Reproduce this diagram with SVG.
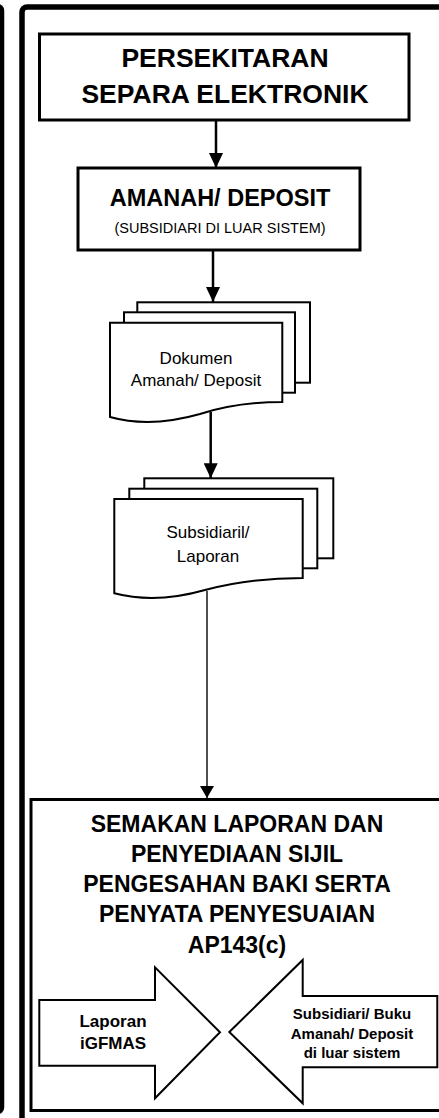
<svg xmlns="http://www.w3.org/2000/svg" width="439" height="1118" viewBox="0 0 439 1118">
<defs>
<style>
.frame{fill:none;stroke:#000;stroke-width:5.5}
.box{fill:#fff;stroke:#000;stroke-width:3}
.doc{fill:#fff;stroke:#000;stroke-width:2}
.big{fill:#fff;stroke:#000;stroke-width:2}
.conn{fill:none;stroke:#000;stroke-width:2.5}
.thin{fill:none;stroke:#222;stroke-width:1.6}
.t{font-family:"Liberation Sans",Arial,sans-serif;fill:#000;text-anchor:middle}
.b{font-weight:bold}
</style>
<marker id="ah" markerUnits="userSpaceOnUse" markerWidth="14" markerHeight="16" viewBox="0 0 14 16" refX="7" refY="15" orient="0">
<path d="M0,0 L14,0 L7,15 Z" fill="#000"/>
</marker>
<marker id="ah2" markerUnits="userSpaceOnUse" markerWidth="14" markerHeight="16" viewBox="0 0 14 16" refX="7" refY="15" orient="0">
<path d="M0,3 L14,3 L7,15 Z" fill="#000"/>
</marker>
</defs>
<g id="frames">
<rect class="frame" x="-200" y="6.5" width="201.5" height="1105" rx="4"/>
<rect class="frame" x="22" y="7" width="500" height="1200" rx="5"/>
</g>
<g id="node-persekitaran">
<rect class="box" x="39.5" y="34" width="369.5" height="86"/>
<text class="t b" x="225" y="67" font-size="26.5">PERSEKITARAN</text>
<text class="t b" x="225" y="103" font-size="26.5">SEPARA ELEKTRONIK</text>
</g>
<g id="node-amanah">
<rect class="box" x="78" y="168" width="282" height="82"/>
<text class="t b" x="220" y="206" font-size="23.5">AMANAH/ DEPOSIT</text>
<text class="t" x="220" y="233" font-size="14.5">(SUBSIDIARI DI LUAR SISTEM)</text>
</g>
<g id="node-dokumen">
<rect class="doc" x="137.3" y="302.3" width="172.7" height="80.4"/>
<rect class="doc" x="124" y="312.3" width="171" height="80.4"/>
<path class="doc" d="M110,322.7 H282.3 V402 C250,402 225,406 200,414 C165,424 135,424 110,417 Z"/>
<text class="t" x="196" y="364" font-size="17">Dokumen</text>
<text class="t" x="196" y="386" font-size="17">Amanah/ Deposit</text>
</g>
<g id="node-subsidiari">
<rect class="doc" x="144.3" y="478.3" width="189" height="80"/>
<rect class="doc" x="129.3" y="488.7" width="188" height="79.6"/>
<path class="doc" d="M114.3,499 H302.7 V578 C265,578 235,582 205,590 C170,600 140,600 114.3,593.3 Z"/>
<text class="t" x="208" y="538" font-size="17">Subsidiaril/</text>
<text class="t" x="208" y="562" font-size="17">Laporan</text>
</g>
<g id="node-semakan">
<rect class="box" x="31" y="799.5" width="500" height="311"/>
<text class="t b" x="237" y="832" font-size="23">SEMAKAN LAPORAN DAN</text>
<text class="t b" x="237" y="862" font-size="23">PENYEDIAAN SIJIL</text>
<text class="t b" x="237" y="892" font-size="23">PENGESAHAN BAKI SERTA</text>
<text class="t b" x="237" y="922" font-size="23">PENYATA PENYESUAIAN</text>
<text class="t b" x="237" y="953" font-size="23">AP143(c)</text>
</g>
<g id="node-laporan-igfmas">
<polygon class="big" points="39.3,1000 155,1000 155,967.3 220,1032.3 155,1098.3 155,1065.7 39.3,1065.7"/>
<text class="t b" x="113" y="1027" font-size="17">Laporan</text>
<text class="t b" x="113" y="1048.5" font-size="17">iGFMAS</text>
</g>
<g id="node-subsidiari-buku">
<polygon class="big" points="437.3,996 302.7,996 302.7,960 229.3,1032 302.7,1103.3 302.7,1067.3 437.3,1067.3"/>
<text class="t b" x="352" y="1018.5" font-size="15">Subsidiari/ Buku</text>
<text class="t b" x="352" y="1038.5" font-size="15">Amanah/ Deposit</text>
<text class="t b" x="352" y="1057.5" font-size="15">di luar sistem</text>
</g>
<g id="connectors">
<line class="conn" x1="216" y1="121" x2="216" y2="168" marker-end="url(#ah)"/>
<line class="conn" x1="213" y1="251" x2="213" y2="302" marker-end="url(#ah)"/>
<line class="conn" x1="210.7" y1="412" x2="210.7" y2="478.3" marker-end="url(#ah)"/>
<line class="thin" x1="207" y1="591" x2="207" y2="798" marker-end="url(#ah2)"/>
</g>
</svg>
